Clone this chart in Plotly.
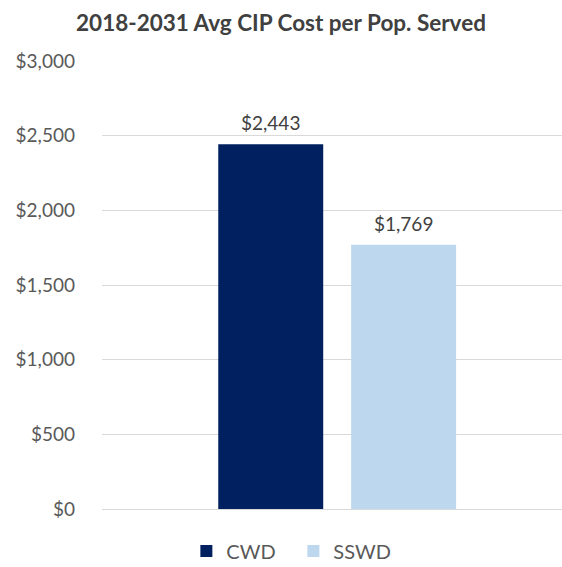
import plotly.graph_objects as go

title = "2018-2031 Avg CIP Cost per Pop. Served"
series = ["CWD", "SSWD"]
values = [2443, 1769]
colors = ["#002060", "#BDD7EE"]
tick_vals = [0, 500, 1000, 1500, 2000, 2500, 3000]
tick_text = ["$0", "$500", "$1,000", "$1,500", "$2,000", "$2,500", "$3,000"]

FONT = "Lato, Open Sans, sans-serif"
bargap = 0.435
bargroupgap = 0.21

fig = go.Figure()
for name, v, c in zip(series, values, colors):
    fig.add_trace(go.Bar(
        x=[0], y=[v], name=name, marker=dict(color=c, line=dict(width=0)),
        hoverinfo="skip",
    ))

# value labels above bars, positioned on the axis via the grouped-bar offsets
slot = (1 - bargap) / len(series)
annotations = []
for i, v in enumerate(values):
    xc = -(1 - bargap) / 2 + slot * (i + 0.5)
    annotations.append(dict(
        x=xc, y=v, xref="x", yref="y", text=f"${v:,}", showarrow=False,
        yanchor="bottom", yshift=8,
        font=dict(family=FONT, size=19, color="#404040"),
    ))

fig.update_layout(
    width=562, height=567,
    margin=dict(l=102, r=0, t=61, b=58),
    paper_bgcolor="white", plot_bgcolor="white",
    barmode="group", bargap=bargap, bargroupgap=bargroupgap,
    title=dict(text=f"<b>{title}</b>", x=0.5, xref="container", xanchor="center",
               y=1 - 23 / 567, yref="container", yanchor="middle",
               font=dict(family=FONT, size=22.5, color="#404040")),
    showlegend=True,
    legend=dict(orientation="h", x=0.522, xref="container", xanchor="center",
                y=1 - 551 / 567, yref="container", yanchor="middle",
                font=dict(family=FONT, size=20, color="#595959"),
                itemwidth=30, entrywidth=62, traceorder="normal"),
    annotations=annotations,
    font=dict(family=FONT),
)
fig.update_xaxes(type="linear", range=[-0.5, 0.478], showticklabels=False, showgrid=False,
                 zeroline=False, showline=False, fixedrange=True)
fig.update_yaxes(range=[0, 3000], tickvals=tick_vals, ticktext=tick_text,
                 showgrid=True, gridcolor="#D9D9D9", gridwidth=1,
                 zeroline=True, zerolinecolor="#D9D9D9", zerolinewidth=1,
                 showline=False, ticks="", ticklabelstandoff=26, fixedrange=True,
                 tickfont=dict(family=FONT, size=19, color="#595959"))

fig.write_html("out.html", config={"displayModeBar": False, "staticPlot": True},
               post_script="document.body.style.margin='0';")
